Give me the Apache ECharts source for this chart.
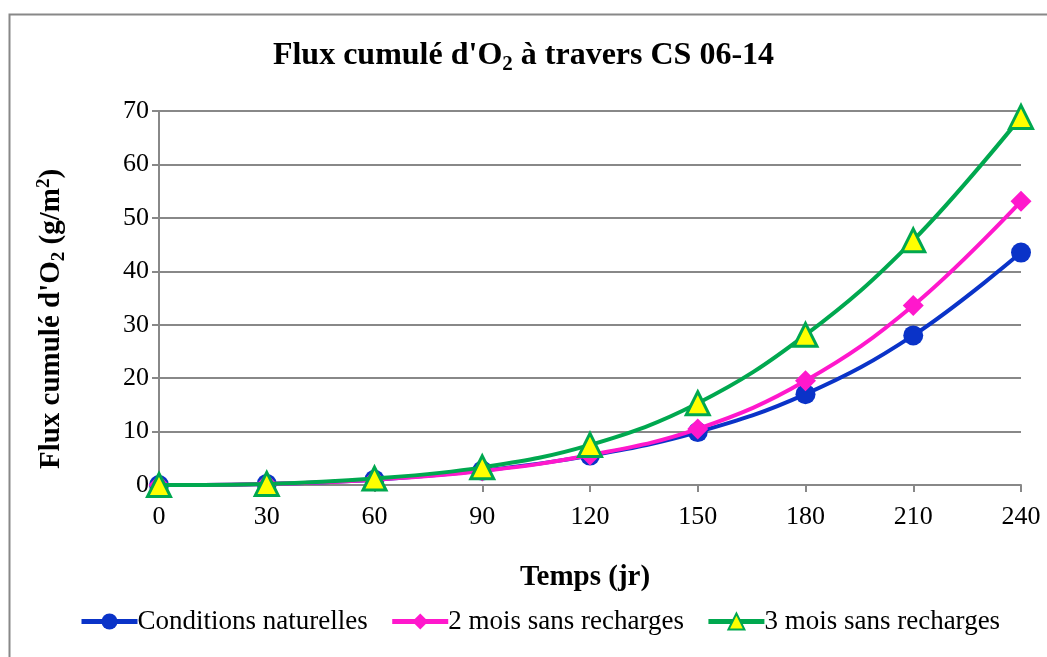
<!DOCTYPE html>
<html>
<head>
<meta charset="utf-8">
<script src="https://cdn.jsdelivr.net/npm/echarts@6/dist/echarts.min.js"></script>
<style>html,body{margin:0;padding:0;background:#fff;}#c{width:1047px;height:657px;}</style>
</head>
<body>
<div id="c"></div>
<script>
const days = [0, 30, 60, 90, 120, 150, 180, 210, 240];
const naturelles = [0, 0.2, 1.0, 2.7, 5.5, 9.9, 17.0, 28.0, 43.5];
const deuxMois = [0, 0.2, 1.0, 2.6, 5.6, 10.5, 19.5, 33.6, 53.1];
const troisMois = [0, 0.2, 1.2, 3.3, 7.5, 15.3, 28.1, 45.8, 68.9];
const seriesNames = ['Conditions naturelles', '2 mois sans recharges', '3 mois sans recharges'];
const xTicks = { min: 0, max: 240, interval: 30 };
const yTicks = { min: 0, max: 70, interval: 10 };

const font = '"Liberation Serif", "Times New Roman", serif';
const pair = (arr) => days.map((d, i) => [d, arr[i]]);

const chart = echarts.init(document.getElementById('c'), null, { renderer: 'canvas' });
chart.setOption({
  backgroundColor: '#fff',
  animation: false,
  graphic: [{
    type: 'rect', left: 7, top: 12, silent: true,
    shape: { width: 1100, height: 700 },
    style: { fill: 'none', stroke: '#888', lineWidth: 2 }
  }],
  title: {
    text: "{a|Flux cumulé d'O}{s|2}{a| à travers CS 06-14}",
    left: 'center', top: 32,
    textStyle: {
      rich: {
        a: { fontFamily: font, fontSize: 32, fontWeight: 'bold', color: '#000', lineHeight: 38 },
        s: { fontFamily: font, fontSize: 21, fontWeight: 'bold', color: '#000', lineHeight: 14, verticalAlign: 'bottom' }
      }
    }
  },
  legend: {
    bottom: 17, left: 74,
    itemWidth: 56, itemHeight: 20, itemGap: 22,
    lineStyle: { width: 5 },
    textStyle: { fontFamily: font, fontSize: 27, color: '#000', padding: [0, 0, 0, -5] },
    data: seriesNames
  },
  grid: { left: 159, right: 26, top: 111, bottom: 172 },
  xAxis: {
    type: 'value', min: xTicks.min, max: xTicks.max, interval: xTicks.interval,
    name: 'Temps (jr)', nameLocation: 'middle', nameGap: 78,
    nameTextStyle: { fontFamily: font, fontSize: 29, fontWeight: 'bold', color: '#000', padding: [0, 10, 0, 0] },
    axisLine: { show: true, onZero: false, lineStyle: { color: '#888', width: 2 } },
    axisTick: { show: true, length: 7, lineStyle: { color: '#888', width: 2 } },
    axisLabel: { fontFamily: font, fontSize: 26, color: '#000', margin: 19 },
    splitLine: { show: false }
  },
  yAxis: {
    type: 'value', min: yTicks.min, max: yTicks.max, interval: yTicks.interval,
    name: "{a|Flux cumulé d'O}{s|2}{a| (g/m}{p|2}{a|)}",
    nameLocation: 'middle', nameGap: 90, nameRotate: 90,
    nameTextStyle: {
      padding: [0, 42, 0, 0],
      rich: {
        a: { fontFamily: font, fontSize: 29, fontWeight: 'bold', color: '#000', lineHeight: 34 },
        s: { fontFamily: font, fontSize: 19, fontWeight: 'bold', color: '#000', lineHeight: 12, verticalAlign: 'bottom' },
        p: { fontFamily: font, fontSize: 19, fontWeight: 'bold', color: '#000', lineHeight: 14, verticalAlign: 'top' }
      }
    },
    axisLine: { show: true, lineStyle: { color: '#888', width: 2 } },
    axisTick: { show: true, length: 7, lineStyle: { color: '#888', width: 2 } },
    axisLabel: { fontFamily: font, fontSize: 26, color: '#000', margin: 10 },
    splitLine: { show: true, lineStyle: { color: '#888', width: 2 } }
  },
  series: [
    {
      name: seriesNames[0], type: 'line', smooth: 0.4, data: pair(naturelles),
      symbol: 'circle', symbolSize: 20,
      lineStyle: { color: '#0A33C8', width: 4 },
      itemStyle: { color: '#0A33C8' }, z: 3
    },
    {
      name: seriesNames[1], type: 'line', smooth: 0.4, data: pair(deuxMois),
      symbol: 'diamond', symbolSize: 21,
      lineStyle: { color: '#FF18CC', width: 4 },
      itemStyle: { color: '#FF18CC' }, z: 4
    },
    {
      name: seriesNames[2], type: 'line', smooth: 0.4, data: pair(troisMois),
      symbol: 'triangle', symbolSize: 23,
      lineStyle: { color: '#00A84F', width: 4 },
      itemStyle: { color: '#FFFF00', borderColor: '#00A84F', borderWidth: 3 }, z: 5
    }
  ]
});
</script>
</body>
</html>
